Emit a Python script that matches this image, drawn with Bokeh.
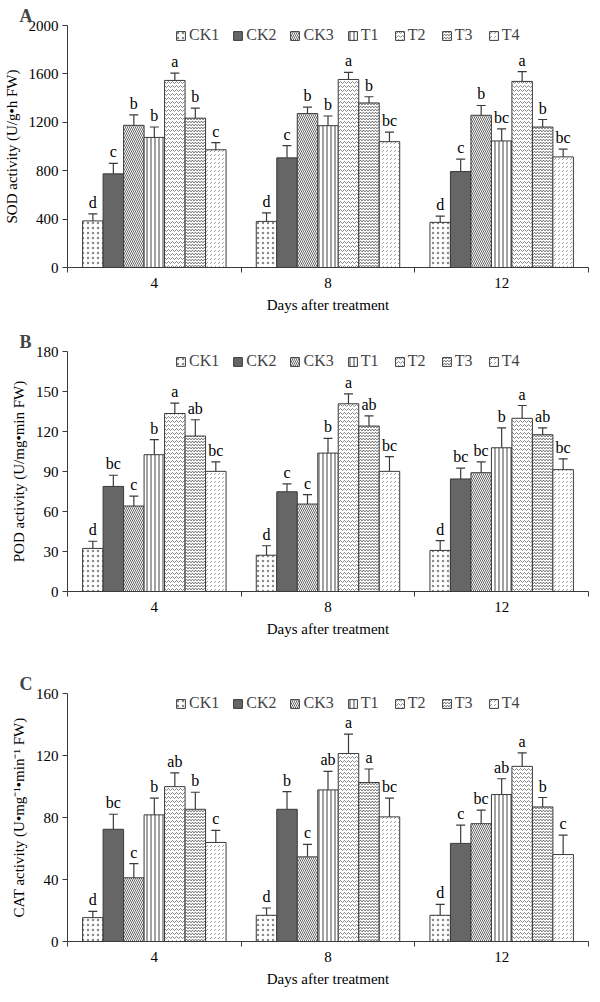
from bokeh.plotting import figure
from bokeh.layouts import column
from bokeh.models import (Range1d, FixedTicker, Whisker, TeeHead, ColumnDataSource,
                          Legend, LegendItem)
from bokeh.embed import file_html
from bokeh.resources import INLINE
from bokeh.core.properties import value

days = ["4", "8", "12"]
treatments = ["CK1", "CK2", "CK3", "T1", "T2", "T3", "T4"]

# SOD (rows: days 4, 8, 12; columns: CK1..T4)
sod_means = [[385, 774, 1175, 1075, 1546, 1234, 973],
             [381, 906, 1272, 1172, 1554, 1360, 1040],
             [373, 793, 1258, 1046, 1538, 1161, 914]]
sod_upper = [[443, 860, 1261, 1161, 1607, 1317, 1032],
             [452, 1008, 1325, 1252, 1613, 1411, 1118],
             [425, 895, 1339, 1145, 1618, 1223, 978]]
sod_letters = [["d", "c", "b", "b", "a", "b", "c"],
               ["d", "c", "b", "b", "a", "b", "bc"],
               ["d", "c", "b", "bc", "a", "b", "bc"]]
sod_ticks = [0, 400, 800, 1200, 1600, 2000]

# POD
pod_means = [[32.3, 78.8, 64.1, 102.6, 133.5, 116.6, 90.1],
             [27.2, 74.8, 65.6, 103.8, 140.8, 124.1, 90.1],
             [30.8, 84.4, 89.1, 107.8, 129.9, 117.6, 91.4]]
pod_upper = [[37.7, 87.2, 71.5, 113.9, 141.3, 128.8, 97.2],
             [34.3, 80.7, 72.7, 114.8, 148.2, 131.7, 101.1],
             [38.1, 92.5, 97.2, 122.7, 139.5, 122.7, 99.5]]
pod_letters = [["d", "bc", "c", "b", "a", "ab", "bc"],
               ["d", "c", "c", "b", "a", "ab", "bc"],
               ["d", "bc", "bc", "b", "a", "ab", "bc"]]
pod_ticks = [0, 30, 60, 90, 120, 150, 180]

# CAT
cat_means = [[15.4, 72.4, 41.1, 81.7, 99.9, 85.3, 63.9],
             [16.9, 85.3, 54.6, 97.8, 121.3, 102.6, 80.4],
             [16.9, 63.3, 76.0, 94.8, 113.0, 86.8, 56.1]]
cat_upper = [[19.5, 82.1, 50.3, 92.5, 108.8, 96.3, 71.7],
             [21.6, 96.7, 62.7, 109.8, 133.8, 111.3, 92.5],
             [23.9, 75.1, 84.7, 105.0, 121.7, 92.9, 68.6]]
cat_letters = [["d", "bc", "c", "b", "ab", "b", "c"],
               ["d", "b", "c", "ab", "a", "a", "bc"],
               ["d", "c", "bc", "ab", "a", "b", "c"]]
cat_ticks = [0, 40, 80, 120, 160]

FONT = "Liberation Serif"
OUT = "#3a3a3a"
styles = [
    dict(fill_color="white", hatch_pattern="dot", hatch_scale=5, hatch_weight=0.6, hatch_color="#8a8a8a"),
    dict(fill_color="#666666", hatch_pattern=None),
    dict(fill_color="white", hatch_pattern="left_diagonal_line", hatch_scale=4, hatch_weight=0.9, hatch_color="#555555"),
    dict(fill_color="white", hatch_pattern="vertical_line", hatch_scale=4, hatch_weight=1.0, hatch_color="#444444"),
    dict(fill_color="white", hatch_pattern="horizontal_wave", hatch_scale=4, hatch_weight=0.7, hatch_color="#555555"),
    dict(fill_color="white", hatch_pattern="horizontal_wave", hatch_scale=3, hatch_weight=0.9, hatch_color="#3c3c3c"),
    dict(fill_color="white", hatch_pattern="right_diagonal_dash", hatch_scale=4, hatch_weight=0.7, hatch_color="#777777"),
]

BW = 0.118


def make_panel(means, upper, letters, ticks, ylabel, title, height, top_b, bottom_b):
    ymax = ticks[-1]
    frame_h = height - top_b - bottom_b
    p = figure(width=590, height=height, x_range=Range1d(0, 3), y_range=Range1d(0, ymax),
               output_backend="svg", toolbar_location=None, title=title,
               min_border_left=50, min_border_right=2, min_border_top=top_b,
               min_border_bottom=bottom_b)
    p.title.text_font = FONT
    p.title.text_font_size = "18px"
    p.title.text_font_style = "bold"
    p.title.offset = -48
    p.title.standoff = 0
    p.outline_line_color = None
    p.grid.visible = False
    p.background_fill_color = "white"

    items = []
    for j, t in enumerate(treatments):
        xs = [i + 0.5 + (j - 3) * BW for i in range(len(days))]
        m = [means[i][j] for i in range(len(days))]
        u = [upper[i][j] for i in range(len(days))]
        lt = [letters[i][j] for i in range(len(days))]
        src = ColumnDataSource(dict(x=xs, m=m, u=u, lt=lt))
        r = p.vbar(x="x", top="m", width=BW, bottom=0, source=src,
                   line_color=OUT, line_width=1, **styles[j])
        w = Whisker(source=src, base="x", upper="u", lower="m", dimension="height",
                    line_color=OUT, line_width=1.2, level="overlay",
                    upper_head=TeeHead(size=9, line_color=OUT, line_width=1.2),
                    lower_head=None)
        p.add_layout(w)
        p.text(x="x", y="u", text="lt", source=src, text_align="center",
               text_baseline="bottom", y_offset=-3, text_font=value(FONT),
               text_font_size="16px", text_color="black")
        items.append(LegendItem(label=t, renderers=[r]))

    leg = Legend(items=items, orientation="horizontal", location=(108, frame_h - 19),
                 border_line_color=None, background_fill_alpha=0,
                 label_text_font=FONT, label_text_font_size="16px",
                 glyph_width=11, glyph_height=11, label_standoff=3, spacing=13,
                 margin=0, padding=2, label_height=14)
    p.add_layout(leg)

    p.xaxis.ticker = FixedTicker(ticks=[0.5, 1.5, 2.5], minor_ticks=[0, 1, 2, 3])
    p.xaxis.major_label_overrides = {0.5: days[0], 1.5: days[1], 2.5: days[2]}
    p.xaxis.minor_tick_out = 5
    p.xaxis.minor_tick_in = 0
    p.xaxis.minor_tick_line_color = OUT
    p.xaxis.axis_label = "Days after treatment"

    p.yaxis.ticker = FixedTicker(ticks=ticks, minor_ticks=[])
    p.yaxis.major_tick_out = 5
    p.yaxis.major_tick_in = 0
    p.yaxis.axis_label = ylabel

    for ax in (p.xaxis[0], p.yaxis[0]):
        ax.axis_line_color = OUT
        ax.major_label_text_font = FONT
        ax.major_label_text_font_size = "15px"
        ax.major_label_text_color = "black"
        ax.axis_label_text_font = FONT
        ax.axis_label_text_font_size = "15px"
        ax.axis_label_text_font_style = "normal"
        ax.axis_label_text_color = "black"
        ax.axis_label_standoff = 6
        ax.major_label_standoff = 4
    p.xaxis.major_tick_line_color = None
    p.yaxis.major_tick_line_color = OUT
    return p


pA = make_panel(sod_means, sod_upper, sod_letters, sod_ticks,
                "SOD activity (U/g\u2022h FW)", "A", 323, 25, 56)
pB = make_panel(pod_means, pod_upper, pod_letters, pod_ticks,
                "POD activity (U/mg\u2022min FW)", "B", 324, 28, 56)
pC = make_panel(cat_means, cat_upper, cat_letters, cat_ticks,
                "CAT activity (U\u2022mg\u207b\u00b9\u2022min\u207b\u00b9 FW)", "C", 346, 46, 52)

layout = column(pA, pB, pC, spacing=0)
open("out.html", "w").write(file_html(layout, INLINE))
